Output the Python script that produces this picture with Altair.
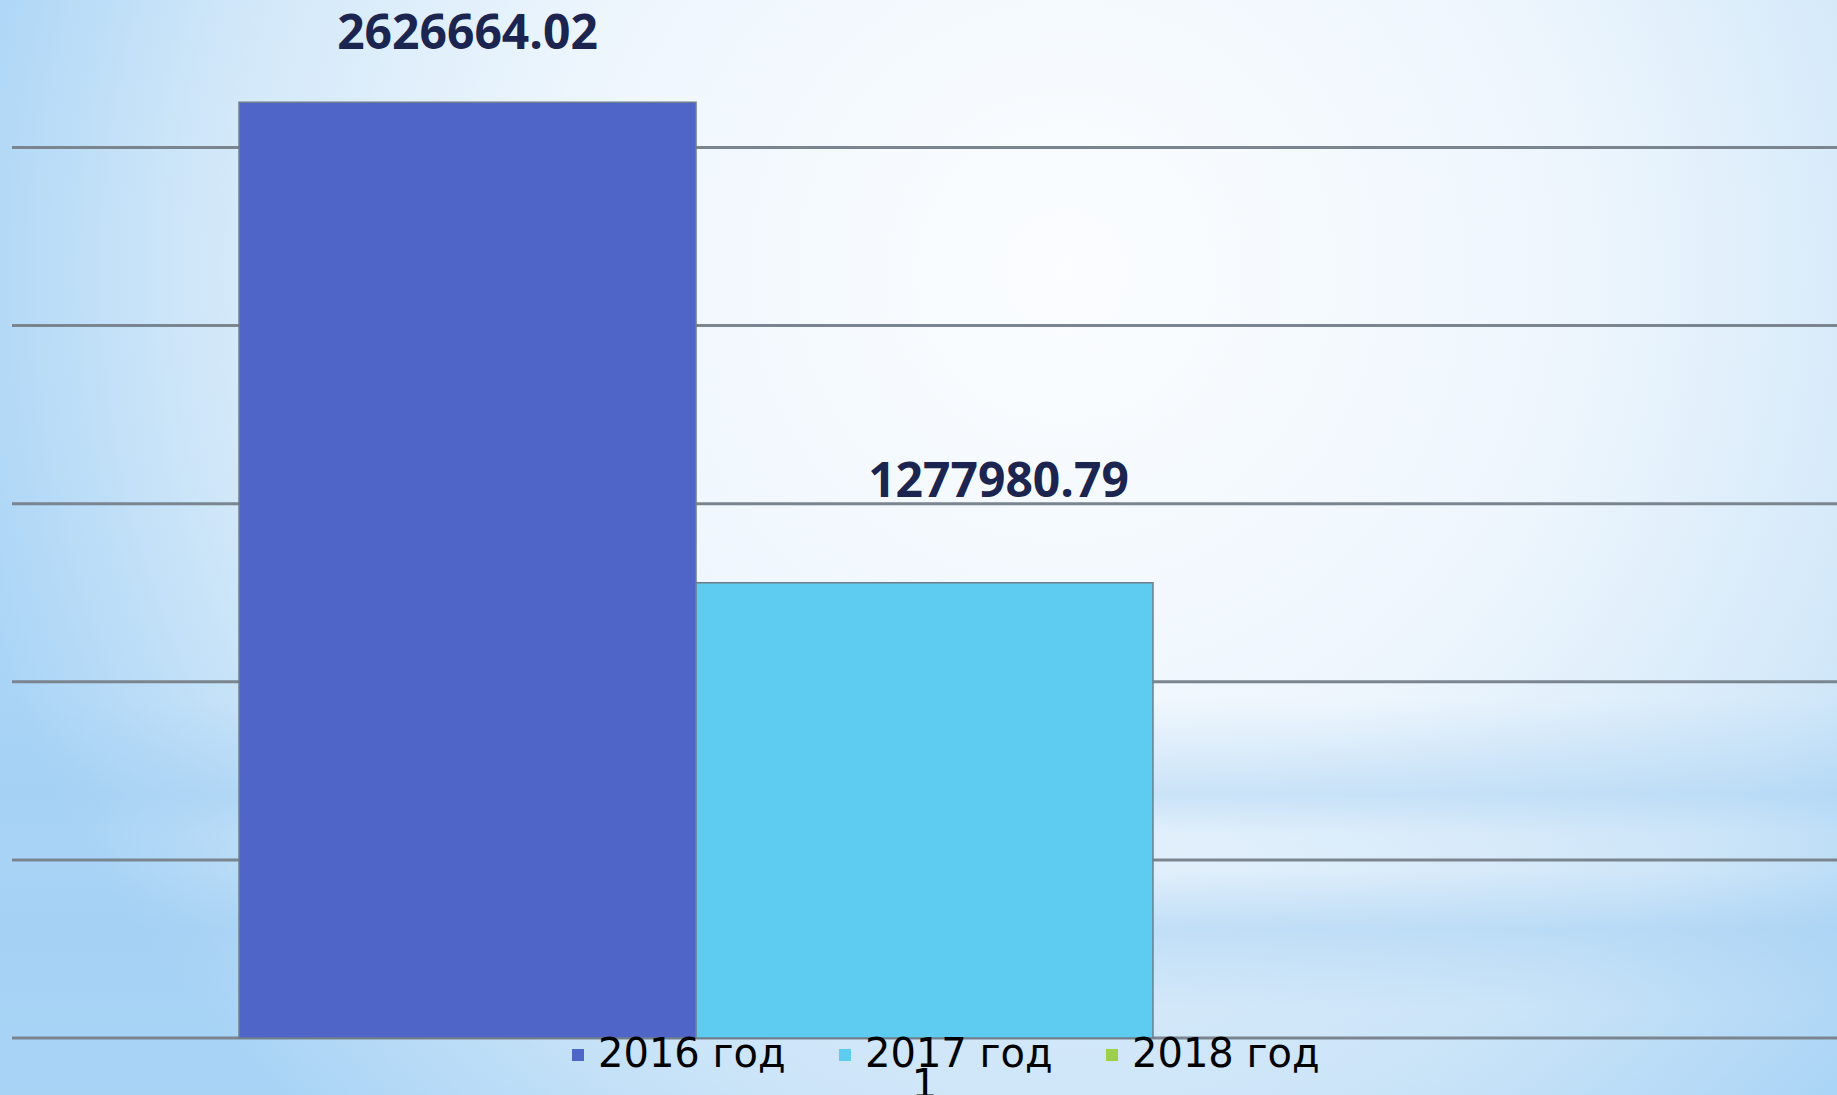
import altair as alt
import pandas as pd

# ---- data ----
categories = ["1", "1", "1"]
years = ["2016 год", "2017 год", "2018 год"]
values = [2626664.02, 1277980.79, None]
colors = ["#4f65c7", "#5ecbf1", "#9ccf4c"]
grid_values = [0, 500000, 1000000, 1500000, 2000000, 2500000]

# ---- layout ----
W, H = 1825, 1033
PAD_L, PAD_T, PAD_B = 12, 5, 57
Y_MAX = 2900000

df = pd.DataFrame({"cat": categories, "year": years, "value": values})
grid = pd.DataFrame({"g": grid_values})

y_scale = alt.Scale(domain=[0, Y_MAX], nice=False, zero=True)

x_enc = alt.X(
    "cat:N",
    scale=alt.Scale(paddingOuter=0.1656, paddingInner=0),
    axis=alt.Axis(title=None, ticks=False, domain=False, grid=False, labelAngle=0,
                  labelFont="DejaVu Sans", labelFontSize=40, labelColor="#000000",
                  labelPadding=27, zindex=1),
)
xo_enc = alt.XOffset("year:N", scale=alt.Scale(domain=years, paddingInner=0, paddingOuter=0))
y_enc = alt.Y("value:Q", scale=y_scale, axis=None)

one = alt.Data(values=[{"a": 1}])

bg = alt.Chart(one).mark_rect(
    fill=alt.RadialGradient(
        gradient="radial",
        stops=[
            alt.GradientStop(offset=0, color="#fbfdff"),
            alt.GradientStop(offset=0.45, color="#eef6fd"),
            alt.GradientStop(offset=0.75, color="#d2e8f9"),
            alt.GradientStop(offset=1, color="#a9d4f6"),
        ],
        x1=0.58, y1=0.35, r1=0, x2=0.58, y2=0.35, r2=0.62,
    )
).encode(x=alt.value(-PAD_L), x2=alt.value(W), y=alt.value(-PAD_T), y2=alt.value(H + PAD_B))

band = alt.Chart(one).mark_rect(
    fill=alt.LinearGradient(
        gradient="linear",
        stops=[
            alt.GradientStop(offset=0, color="rgba(160,205,242,0)"),
            alt.GradientStop(offset=0.24, color="rgba(160,205,242,0.45)"),
            alt.GradientStop(offset=0.34, color="rgba(160,205,242,0.12)"),
            alt.GradientStop(offset=0.43, color="rgba(160,205,242,0.08)"),
            alt.GradientStop(offset=0.58, color="rgba(160,205,242,0.5)"),
            alt.GradientStop(offset=0.78, color="rgba(160,205,242,0.15)"),
            alt.GradientStop(offset=1, color="rgba(160,205,242,0.1)"),
        ],
        x1=0, x2=0, y1=0, y2=1,
    )
).encode(x=alt.value(-PAD_L), x2=alt.value(W), y=alt.value(695), y2=alt.value(H + PAD_B))

rules = alt.Chart(grid).mark_rule(color="#7a8590", strokeWidth=3).encode(
    y=alt.Y("g:Q", scale=y_scale, axis=None),
    x=alt.value(0),
    x2=alt.value(W),
)

bars = alt.Chart(df).mark_bar(stroke="#6f7e8c", strokeWidth=1.5).encode(
    x=x_enc,
    xOffset=xo_enc,
    y=y_enc,
    color=alt.Color(
        "year:N",
        scale=alt.Scale(domain=years, range=colors),
        legend=alt.Legend(
            title=None, orient="none", legendX=546, legendY=1030, direction="horizontal",
            symbolType="square", symbolSize=144, symbolStrokeWidth=0,
            labelFont="DejaVu Sans", labelFontSize=40, labelColor="#000000",
            labelOffset=0, columnPadding=39, padding=0, labelLimit=0,
        ),
    ),
)

lab1 = alt.Chart(df).transform_filter(alt.datum.year == years[0]).mark_text(
    font="Open Sans", fontWeight="bold", fontSize=48, color="#1b2550",
    baseline="alphabetic", dy=-53,
).encode(x=x_enc, xOffset=xo_enc, y=y_enc, text=alt.Text("value:Q", format=".2f"))

lab2 = alt.Chart(df).transform_filter(alt.datum.year == years[1]).mark_text(
    font="Open Sans", fontWeight="bold", fontSize=48, color="#1b2550",
    baseline="alphabetic", dy=-86, dx=74,
).encode(x=x_enc, xOffset=xo_enc, y=y_enc, text=alt.Text("value:Q", format=".2f"))

chart = alt.layer(bg, band, rules, bars, lab1, lab2).properties(
    width=W, height=H,
    padding={"left": PAD_L, "top": PAD_T, "right": 0, "bottom": PAD_B},
    autosize=alt.AutoSizeParams(type="none"),
    background="#cfe6f8",
).configure_view(stroke=None)

chart.save("out.html", embed_options={"renderer": "svg", "actions": False})
